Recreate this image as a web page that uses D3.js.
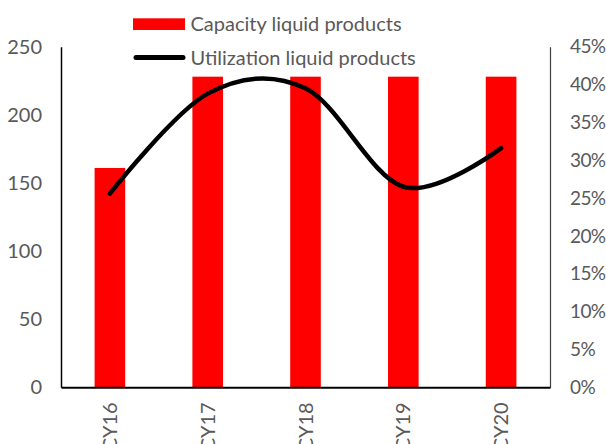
<!DOCTYPE html>
<html>
<head>
<meta charset="utf-8">
<script src="https://cdn.jsdelivr.net/npm/d3@7"></script>
<style>
  html, body { margin: 0; padding: 0; background: #fff; }
  svg text { font-family: Lato, "Open Sans", sans-serif; fill: #595959; }
</style>
</head>
<body>
<svg id="chart" width="606" height="444"></svg>
<script>
const categories = ["CY16", "CY17", "CY18", "CY19", "CY20"];
const capacity = [161, 228, 228, 228, 228];
const utilization = [0.256, 0.388, 0.395, 0.265, 0.316];
const leftTicks = [0, 50, 100, 150, 200, 250];
const rightTicks = [0, 0.05, 0.10, 0.15, 0.20, 0.25, 0.30, 0.35, 0.40, 0.45];
const seriesNames = ["Capacity liquid products", "Utilization liquid products"];

const svg = d3.select("#chart");
const m = { left: 61, right: 550, top: 46.7, bottom: 387.3 };
const fontSize = 20;

const x = d3.scaleBand().domain(categories).range([m.left, m.right]).padding(0);
const barW = x.bandwidth() * 0.313;
const yL = d3.scaleLinear().domain([0, 250]).range([m.bottom, m.top]);
const yR = d3.scaleLinear().domain([0, 0.45]).range([m.bottom, m.top]);

// bars
svg.append("g").selectAll("rect").data(categories).join("rect")
  .attr("x", (d) => x(d) + x.bandwidth() / 2 - barW / 2)
  .attr("y", (d, i) => yL(capacity[i]))
  .attr("width", barW)
  .attr("height", (d, i) => yL(0) - yL(capacity[i]))
  .attr("fill", "#ff0000");

// left axis
const axL = svg.append("g").attr("transform", `translate(${m.left},0)`)
  .call(d3.axisLeft(yL).tickValues(leftTicks).tickSize(0).tickPadding(19));
axL.select(".domain").attr("stroke", "#000").attr("stroke-width", 1.5);
axL.selectAll("text").style("font-size", fontSize + "px").attr("fill", "#595959")
  .style("font-family", "Lato, sans-serif");

// right axis
const axR = svg.append("g").attr("transform", `translate(${m.right},0)`)
  .call(d3.axisRight(yR).tickValues(rightTicks).tickSize(0).tickPadding(20)
    .tickFormat(d3.format(".0%")));
axR.select(".domain").attr("stroke", "#404040").attr("stroke-width", 1.2);
axR.selectAll("text").style("font-size", "19px").attr("fill", "#595959")
  .style("font-family", "Lato, sans-serif")
  .style("letter-spacing", "-0.6px");

// bottom axis
const axB = svg.append("g").attr("transform", `translate(0,${m.bottom})`)
  .call(d3.axisBottom(x).tickSize(0).tickPadding(0));
axB.select(".domain").attr("stroke", "#000").attr("stroke-width", 2);
axB.selectAll("text")
  .style("font-size", fontSize + "px").attr("fill", "#595959")
  .style("font-family", "Lato, sans-serif")
  .attr("text-anchor", "end")
  .attr("dy", null)
  .attr("y", 0)
  .attr("transform", "translate(7,15) rotate(-90)");

// line
const line = d3.line()
  .x((d, i) => x(categories[i]) + x.bandwidth() / 2)
  .y((d) => yR(d))
  .curve(d3.curveCardinal.tension(0));
svg.append("path").datum(utilization)
  .attr("d", line)
  .attr("fill", "none")
  .attr("stroke", "#000")
  .attr("stroke-width", 4.5)
  .attr("stroke-linecap", "round");

// legend
const lg = svg.append("g");
lg.append("rect").attr("x", 133).attr("y", 18.3).attr("width", 52).attr("height", 11.7).attr("fill", "#ff0000");
lg.append("text").attr("x", 190.5).attr("y", 30.5).style("font-size", fontSize + "px").text(seriesNames[0]);
lg.append("line").attr("x1", 136).attr("x2", 183).attr("y1", 57.5).attr("y2", 57.5)
  .attr("stroke", "#000").attr("stroke-width", 5).attr("stroke-linecap", "round");
lg.append("text").attr("x", 190.5).attr("y", 64.5).style("font-size", fontSize + "px").text(seriesNames[1]);
</script>
</body>
</html>
